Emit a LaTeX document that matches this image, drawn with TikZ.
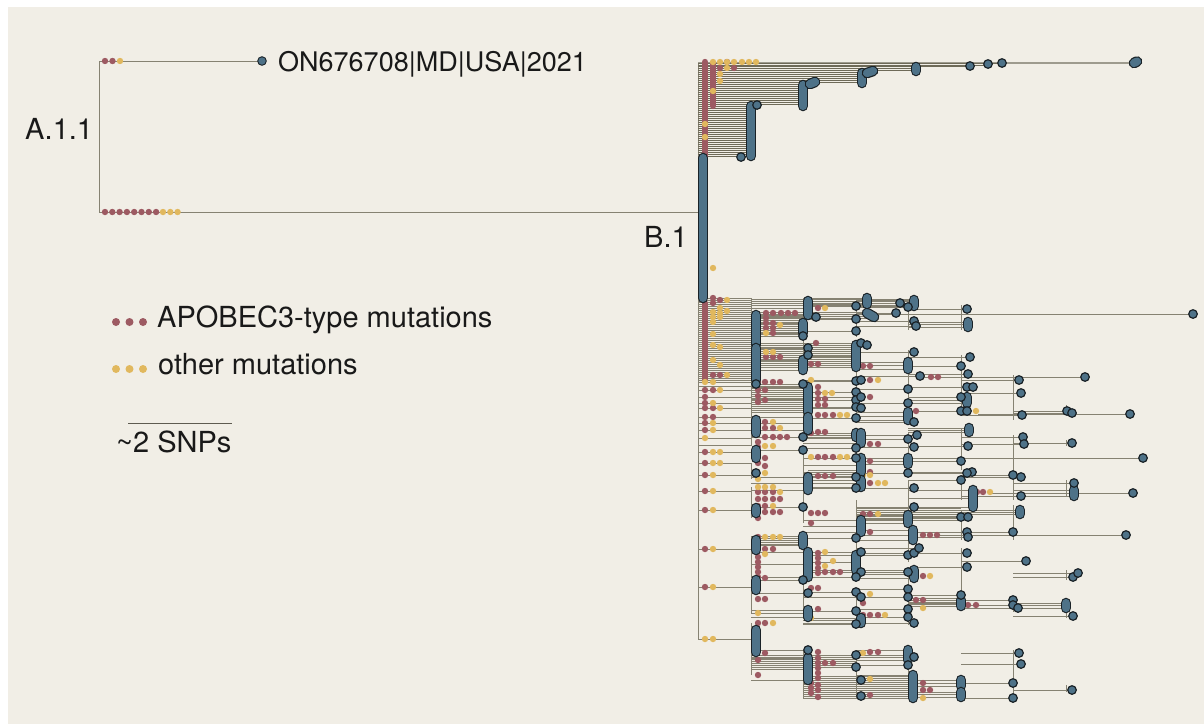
\documentclass[tikz,border=0pt]{standalone}
\usepackage{fontspec}
\setmainfont{TeX Gyre Heros}
\definecolor{bg}{HTML}{F1EEE6}
\definecolor{linec}{HTML}{868272}
\definecolor{densec}{HTML}{6E6A58}
\definecolor{apo}{HTML}{9D5A62}
\definecolor{oth}{HTML}{E1B85E}
\definecolor{tipc}{HTML}{4E7288}
\definecolor{tipo}{HTML}{1A2227}
\tikzset{
  br/.style={draw=linec, line width=0.8pt},
  dense/.style={draw=densec, line width=0.95pt},
  lbl/.style={font=\fontsize{29}{34}\selectfont, text=black!90, inner sep=0pt, anchor=base west},
}
\newcommand\tipat[2]{\filldraw[fill=tipc, draw=tipo, line width=1.2pt] (#1,#2) circle[radius=4.3pt];}
\newcommand\pillat[3]{\draw[tipo, line width=10.6pt, line cap=round] (#1,#2)--(#1,#3);\draw[tipc, line width=8.2pt, line cap=round] (#1,#2)--(#1,#3);}
\newcommand\rdot[2]{\fill[apo] (#1,#2) circle[radius=3.2pt];}
\newcommand\ydot[2]{\fill[oth] (#1,#2) circle[radius=3.2pt];}
\def\parentcalc#1{\pgfmathsetmacro\px{#1<835?751:(#1<885?803:(#1<935?856:(#1<990?908:(#1<1040?961:1013))))}}
\def\tiplist{856/306, 856/319, 856/331, 861/343, 867/345, 856/381, 861/380, 856/392, 856/400, 861/397, 856/407, 861/408, 856/418, 856/448, 856/458, 856/477, 856/488, 856/538, 861/552, 861/572, 856/577, 856/592, 861/597, 856/611, 856/624, 856/655, 856/667, 861/680, 861/696,
816/317, 803/336, 808/348, 808/355, 803/384, 803/437, 803/450, 803/507, 803/580, 808/593, 808/650, 756/384, 756/473,
900/303, 908/307, 896/313, 914/321, 916/326, 914/352, 920/376, 908/389, 908/403, 914/422, 917/435, 908/439, 914/447, 908/473, 914/488, 914/507, 908/555, 914/553, 919/548, 908/572, 908/589, 908/597, 908/609, 908/617, 914/623, 914/657, 908/665,
967/309, 970/357, 961/366, 968/374, 967/387, 973/387, 961/397, 961/411, 967/411, 968/446, 961/461, 972/472, 967/473, 961/480, 961/517, 968/517, 967/532, 968/537, 967/553, 967/567, 961/595,
1019/380, 1021/393, 1022/415, 1023/437, 1024/444, 1013/475, 1021/477, 1021/496, 1013/532, 1026/561, 1013/600, 1013/605, 1018/608, 1019/653, 1021/664, 1013/683, 1013/698,
1067/411, 1072/413, 1072/443, 1074/483, 1073/577, 1078/573, 1073/616, 1072/690}
\def\pilllist{808/301/315, 803/323/333, 803/360/370, 808/387/412, 808/417/430, 808/477/490, 803/536/545, 808/552/577, 808/610/617, 808/658/680,
756/315/345, 756/348/380, 756/420/433, 756/450/458, 756/508/513, 756/540/550, 756/580/590, 756/630/652,
856/345/367, 856/433/437, 861/433/443, 861/458/472, 861/480/487, 861/520/532, 856/555/570, 861/618/623, 867/298/304,
914/300/306, 908/362/369, 908/412/420, 908/458/464, 908/515/523, 913/530/540, 914/570/578, 908/650/660, 913/675/698,
968/322/327, 967/397/403, 969/428/432, 973/490/507, 961/600/606, 961/680/686, 961/692/697,
1020/510/514, 1074/490/496, 1066/603/608}
\def\longlist{1193/314/870, 1085/377/922, 1130/414/978, 1143/458/908, 1133/493/990, 1126/535/937}
\def\topbands{106/156/698/751, 84/104/698/803, 72/82/698/862, 66/70/698/916}
\def\bandlist{298/382/698/751, 299/305/751/914, 312/318/751/870, 320/334/751/803, 343/368/751/856, 386/412/751/808, 508/520/856/961, 536/545/751/803, 598/605/908/961, 470/476/808/856, 655/668/751/856, 676/698/803/913}
\def\vlist{751/298/446, 751/450/458, 751/463/479, 751/487/518, 751/537/577, 751/580/613, 751/623/675,
803/300/372, 803/380/440, 803/450/523, 803/536/617, 803/650/698,
856/300/337, 856/343/420, 856/430/490, 856/500/580, 856/590/625, 856/650/698,
908/300/330, 908/350/425, 908/433/475, 908/480/525, 908/530/562, 908/570/625, 908/650/698,
961/305/330, 961/355/415, 961/428/470, 961/475/500, 961/510/540, 961/548/610, 961/675/698,
1013/375/420, 1013/435/500, 1013/505/540, 1013/598/612, 1013/650/700,
1066/405/415, 1066/440/446, 1066/480/496, 1066/570/580, 1066/603/618, 1066/685/692}
\def\redlist{713/298, 713/303, 720/300, 705/390, 713/390, 705/397, 705/403, 705/408, 713/408, 705/417, 713/417, 705/423, 705/430, 705/452, 705/463, 705/475, 705/491, 705/510, 705/549, 705/587, 713/375, 720/375,
766/313, 773/313, 781/313, 788/313, 795/313, 766/318, 766/323, 773/323, 766/328, 773/328, 773/333, 766/357, 773/357, 780/357, 758/382, 765/382, 773/382, 780/382, 758/390, 758/396, 758/402, 765/390, 765/400, 765/422, 765/428, 773/428, 765/437, 773/437, 780/437, 787/437, 758/442, 758/447, 765/458, 758/463, 765/466, 758/492, 765/492, 773/492, 758/499, 765/499, 773/499, 780/499, 758/506, 765/506, 765/512, 773/512, 780/512, 758/518, 758/537, 765/549, 773/549, 758/557, 758/562, 758/567, 758/572, 758/577, 765/578, 758/599, 765/599, 765/623, 758/623, 765/653, 758/660, 758/675,
818/308, 816/343, 811/364, 818/364, 818/387, 818/393, 818/399, 818/405, 825/399, 825/405, 818/415, 825/415, 833/415, 811/433, 818/432, 825/432, 818/457, 825/457, 833/457, 818/476, 825/476, 833/476, 811/513, 818/513, 825/513, 811/523, 818/553, 818/558, 818/563, 818/568, 818/573, 825/572, 833/572, 840/572, 811/588, 818/588, 818/609, 818/652, 818/658, 818/663, 818/668, 818/673, 818/678, 825/663, 833/663, 811/683, 811/688, 811/693, 818/685, 818/690, 818/697,
863/366, 870/366, 870/380, 870/397, 870/444, 878/444, 870/461, 870/472, 870/483, 863/514, 870/514, 870/532, 863/603, 863/615, 870/615, 878/615, 870/652, 878/652, 870/695, 931/377, 938/377, 916/411,
923/535, 930/535, 937/535, 923/576, 916/600, 923/600, 968/605, 976/605, 923/683, 923/690, 930/690, 968/411, 977/492, 983/492}
\def\yellist{727/300, 713/312, 713/317, 713/322, 720/308, 720/313, 720/317, 727/311, 713/334, 713/345, 713/360, 720/347, 720/365, 727/375, 705/382, 713/382, 720/390, 713/403, 720/408, 713/423, 713/430, 705/438, 713/452, 720/452, 713/463, 720/463, 713/475, 713/491, 713/510, 713/549, 713/587, 705/639, 713/639,
780/325, 766/333, 766/352, 773/352, 773/422, 780/428, 765/446, 773/446, 765/473, 758/479, 758/487, 765/487, 773/487, 780/492, 773/506, 765/537, 773/537, 780/537, 765/554, 758/613, 773/623,
825/308, 811/380, 825/393, 832/393, 840/415, 847/415, 811/457, 840/457, 847/457, 825/552, 833/561, 825/566, 811/618,
878/380, 863/475, 870/475, 878/483, 885/483, 878/514, 870/594, 885/615, 863/653, 870/679,
976/411, 990/492, 930/576, 923/608, 923/698,
705/124, 705/137, 713/91, 720/62, 727/62, 734/62, 742/62, 749/62, 756/62, 720/74, 720/81, 727/68, 713/62, 713/268}
\begin{document}
\begin{tikzpicture}[x=1pt,y=-1pt]
\useasboundingbox (0,0) rectangle (1204,724);
\fill[white] (0,0) rectangle (1204,724);
\fill[bg] (8,7) rectangle (1204,724);
% ---------- A.1.1 ----------
\draw[br] (262,61) -- (99,61) -- (99,212) -- (698,212);
\foreach \x in {105,112.3,...,157} {\rdot{\x}{212}}
\foreach \x in {163,170.3,177.6} {\ydot{\x}{212}}
\rdot{105}{61}\rdot{112.5}{61}\ydot{120}{61}
\node[circle, fill=tipc, draw=tipo, line width=0.9pt, minimum size=8.6pt, inner sep=0pt] (on) at (262,61) {};
\node[lbl, font=\fontsize{27}{32}\selectfont] (onlbl) at (278,71) {ON676708|MD|USA|2021};
\node[lbl] (alab) at (25,139) {A.1.1};
\node[lbl] (blab) at (644,247) {B.1};
% ---------- legend ----------
\foreach \x in {116,129.5,143} {\fill[apo] (\x,322) circle[radius=4pt]; \fill[oth] (\x,369) circle[radius=4pt];}
\node[lbl] (leg1) at (157,327) {APOBEC3-type mutations};
\node[lbl] (leg2) at (158,374) {other mutations};
\draw[linec!70!black, line width=1pt] (128,423) -- (232,423);
\node[lbl] (snp) at (116,452) {\textasciitilde2 SNPs};
% ---------- B.1 root ----------
\draw[br] (698,62) -- (698,639);
% top clade long lines
\draw[linec!80, line width=2pt] (698,62.5) -- (1136,62.5);
\draw[dense] (698,63.6) -- (1002,63.6);
\draw[dense] (698,65) -- (988,65);
\draw[dense] (698,66.4) -- (970,66.4);
% bands
\foreach \ya/\yb/\xa/\xb in \topbands {
  \pgfmathtruncatemacro\ys{\ya+2}
  \foreach \yy in {\ya,\ys,...,\yb} {\draw[dense] (\xa,\yy) -- (\xb,\yy);}
}
\foreach \ya/\yb/\xa/\xb in \bandlist {
  \pgfmathtruncatemacro\ys{\ya+2}
  \foreach \yy in {\ya,\ys,...,\yb} {\draw[draw=linec, line width=0.6pt] (\xa,\yy) -- (\xb,\yy);}
}
\foreach \yy in {386,390,397,403,408,417,423,430,438,445,452,463,475,491,510,549,587,639} {\draw[br] (698,\yy) -- (751,\yy);}
\foreach \x/\ya/\yb in \vlist {\draw[br] (\x,\ya) -- (\x,\yb);}
\foreach \x/\y in \tiplist {\parentcalc{\x}\draw[br] (\px,\y) -- (\x,\y);}
\foreach \x/\ya/\yb in \pilllist {\parentcalc{\x}\pgfmathsetmacro\ym{(\ya+\yb)/2}
  \draw[br] (\px,\ya) -- (\x,\ya); \draw[br] (\px,\ym) -- (\x,\ym); \draw[br] (\px,\yb) -- (\x,\yb);}
\foreach \x/\y/\p in \longlist {\draw[br] (\p,\y) -- (\x,\y);}
% mutation dots
\draw[apo, line width=6.4pt, line cap=round] (705,62) -- (705,156);
\draw[apo, line width=6.4pt, line cap=round] (713,64) -- (713,106);
\draw[apo, line width=6.4pt, line cap=round] (705,303) -- (705,380);
\rdot{720}{68}\rdot{734}{68}\rdot{727}{62}
\foreach \x/\y in \redlist {\rdot{\x}{\y}}
\foreach \x/\y in \yellist {\ydot{\x}{\y}}
% top clade tips
\pillat{703}{158}{298}
\pillat{751}{106}{156}
\pillat{803}{85}{106}
\pillat{862}{73}{83}
\pillat{916}{67}{71}
\tipat{757}{105}\tipat{741}{157}
\draw[tipo, line width=10.6pt, line cap=round] (810,84) -- (815,82);\draw[tipc, line width=8.2pt, line cap=round] (810,84) -- (815,82);
\draw[tipo, line width=10.6pt, line cap=round] (867,73) -- (873,71);\draw[tipc, line width=8.2pt, line cap=round] (867,73) -- (873,71);
\tipat{970}{66}\tipat{988}{64}\tipat{1002}{63}
\draw[tipo, line width=10.6pt, line cap=round] (1134,63) -- (1137,61.5);\draw[tipc, line width=8.2pt, line cap=round] (1134,63) -- (1137,61.5);
% bottom tips
\foreach \x/\ya/\yb in \pilllist {\pillat{\x}{\ya}{\yb}}
\draw[tipo, line width=10.6pt, line cap=round] (867,313) -- (874,317);\draw[tipc, line width=8.2pt, line cap=round] (867,313) -- (874,317);
\foreach \x/\y in \tiplist {\tipat{\x}{\y}}
\foreach \x/\y/\p in \longlist {\tipat{\x}{\y}}
\end{tikzpicture}
\end{document}
